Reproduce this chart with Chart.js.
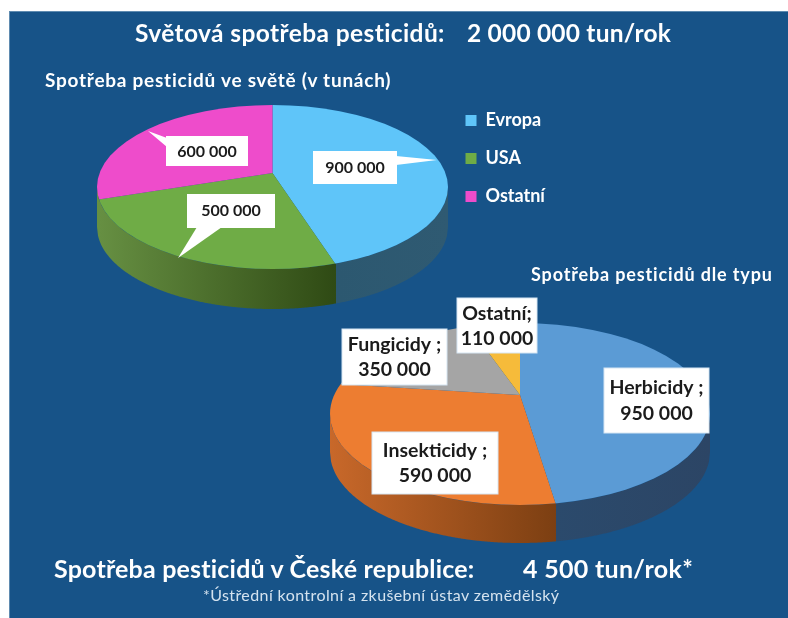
<!DOCTYPE html>
<html lang="cs"><head><meta charset="utf-8">
<script src="https://cdn.jsdelivr.net/npm/chart.js@4"></script>
<style>
html,body{margin:0;padding:0;background:#fff;width:788px;height:618px;overflow:hidden}
#stage{position:absolute;left:0;top:0;width:788px;height:618px;overflow:hidden;filter:blur(.7px)}
#panel{position:absolute;left:9px;top:11px;right:0;bottom:0;background:#175388;box-shadow:inset 1px 1px 0 #5f8bb0}
canvas{position:absolute;left:0}
.t{position:absolute;white-space:nowrap;font-family:Lato,sans-serif;font-weight:700;color:#fff;line-height:1;transform:translateY(-50%)}
</style></head><body>
<div id="stage">
<div id="panel"></div>
<canvas id="world" width="788" height="500" style="top:-60px"></canvas>
<canvas id="types" width="788" height="640" style="top:0"></canvas>
<div class="t" style="left:135px;top:33px;font-size:24.5px;letter-spacing:.4px">Světová spotřeba pesticidů:</div>
<div class="t" style="left:467px;top:33px;font-size:24.5px;letter-spacing:.2px">2 000 000 tun/rok</div>
<div class="t" style="left:45px;top:79px;font-size:19px;letter-spacing:.75px">Spotřeba pesticidů ve světě (v tunách)</div>
<div class="t" style="left:531px;top:274px;font-size:18px;letter-spacing:.85px">Spotřeba pesticidů dle typu</div>
<div class="t" style="left:54px;top:568px;font-size:25px;letter-spacing:.2px">Spotřeba pesticidů v České republice:</div>
<div class="t" style="left:523px;top:568px;font-size:25px;letter-spacing:.3px">4 500 tun/rok*</div>
<div class="t" style="left:203px;top:595px;font-size:16px;letter-spacing:.4px;font-weight:400;color:#d5e3ef">*Ústřední kontrolní a zkušební ústav zemědělský</div>
</div>
<script>
const worldCategories = ['Evropa', 'USA', 'Ostatní'];
const worldValues = [900000, 500000, 600000];
const typeCategories = ['Herbicidy', 'Insekticidy', 'Fungicidy', 'Ostatní'];
const typeValues = [950000, 590000, 350000, 110000];
const typeSeparators = [' ;', ' ;', ' ;', ';'];

const worldColors = ['#5FC5F9', '#6FAC46', '#EE4CCB'];
const typeColors = ['#5B9BD5', '#ED7D31', '#A5A5A5', '#F6BB3A'];
const worldSides = [['#2C5870', '#2F5A72'], ['#668F42', '#2F4A14'], ['#668F42', '#668F42']];
const typeSides = [['#2B4A6C', '#2C4565'], ['#C8682A', '#7C3F12'], ['#C8682A', '#C8682A'], ['#B88A2A', '#B88A2A']];

const fmt = v => String(v).replace(/\B(?=(\d{3})+(?!\d))/g, ' ');

const pie3d = {
  id: 'pie3d',
  beforeDatasetsDraw(chart, args, o) {
    const ctx = chart.ctx, arcs = chart.getDatasetMeta(0).data;
    const cx = arcs[0].x, cy = arcs[0].y;
    const ey = cy + o.drop;
    const groups = [];
    for (let x = cx - o.rx; x <= cx + o.rx + 0.001; x += 1) {
      const u = (x - cx) / o.rx;
      const y = ey + o.ry * Math.sqrt(Math.max(0, 1 - u * u));
      let a = Math.atan2((y - cy) / o.k, x - cx);
      if (a < -Math.PI / 2) a += Math.PI * 2;
      const idx = arcs.findIndex(e => a >= e.startAngle - 1e-6 && a <= e.endAngle + 1e-6);
      const last = groups[groups.length - 1];
      if (last && last.idx === idx) last.pts.push([x, y]);
      else { if (last) last.pts.push([x, y]); groups.push({ idx, pts: [[x, y]] }); }
    }
    groups.forEach(g => {
      const p = g.pts, c = o.sides[g.idx];
      const grad = ctx.createLinearGradient(p[0][0], 0, p[p.length - 1][0], 0);
      grad.addColorStop(0, c[0]); grad.addColorStop(1, c[1]);
      ctx.beginPath();
      p.forEach((q, i) => i ? ctx.lineTo(q[0], q[1]) : ctx.moveTo(q[0], q[1]));
      for (let i = p.length - 1; i >= 0; i--) ctx.lineTo(p[i][0], p[i][1] + o.depth);
      ctx.closePath();
      ctx.fillStyle = grad;
      ctx.fill();
    });
    ctx.save();
    ctx.beginPath();
    ctx.ellipse(cx, ey, o.rx, o.ry, 0, 0, Math.PI * 2);
    ctx.clip();
    ctx.translate(cx, cy); ctx.scale(1, o.k); ctx.translate(-cx, -cy);
  },
  afterDatasetsDraw(chart) { chart.ctx.restore(); },
  afterDraw(chart, args, o) {
    const ctx = chart.ctx;
    ctx.save();
    ctx.translate(0, o.canvasTop);
    o.boxes.forEach(b => {
      ctx.fillStyle = '#fff';
      if (b.tail) {
        ctx.beginPath(); b.tail.forEach((q, i) => i ? ctx.lineTo(q[0], q[1]) : ctx.moveTo(q[0], q[1]));
        ctx.closePath(); ctx.fill();
      }
      ctx.fillRect(b.x, b.y, b.w, b.h);
      if (o.outline) { ctx.strokeStyle = o.outline; ctx.lineWidth = 1; ctx.strokeRect(b.x, b.y, b.w, b.h); }
      ctx.fillStyle = '#1b1b1b';
      ctx.font = o.font;
      ctx.textAlign = 'center'; ctx.textBaseline = 'middle';
      b.lines(chart).forEach((s, i) => ctx.fillText(s, b.x + b.w / 2 + (b.dx || 0), b.ly[i]));
    });
    ctx.restore();
  }
};

const legendMover = {
  id: 'legendMover',
  afterLayout(chart, args, o) {
    const l = chart.legend; if (!l || !o.left) return;
    l.left = o.left; l.top = o.top; l.right = o.left + 180; l.bottom = o.top + 160;
  }
};

new Chart(document.getElementById('world'), {
  type: 'pie',
  data: { labels: worldCategories, datasets: [{ data: worldValues, backgroundColor: worldColors, borderWidth: 0 }] },
  plugins: [pie3d, legendMover],
  options: {
    responsive: false, animation: false, maintainAspectRatio: false,
    layout: { padding: { left: 57.5, right: 300.5, top: 18, bottom: 52 } },
    plugins: {
      tooltip: { enabled: false },
      legend: {
        display: true, position: 'chartArea', align: 'start',
        labels: { boxWidth: 11, boxHeight: 11, padding: 20, color: '#fff', font: { family: 'Lato', weight: 'bold', size: 18 } }
      },
      legendMover: { left: 445.5, top: 151.5 },
      pie3d: {
        k: 0.47, drop: 14, rx: 175.5, ry: 82, depth: 40, sides: worldSides, canvasTop: 60,
        font: 'bold 16px Lato',
        boxes: [
          { x: 313, y: 151, w: 84, h: 33, ly: [168], lines: c => [fmt(c.data.datasets[0].data[0])], tail: [[396, 156], [437, 160], [396, 165]] },
          { x: 187, y: 194, w: 88, h: 34, ly: [211], lines: c => [fmt(c.data.datasets[0].data[1])], tail: [[197, 227], [178, 258], [222, 227]] },
          { x: 166, y: 136, w: 82, h: 30, ly: [152], lines: c => [fmt(c.data.datasets[0].data[2])], tail: [[167, 138], [148, 131], [167, 147]] }
        ]
      }
    }
  }
});

const typeLine = i => c => [c.data.labels[i] + typeSeparators[i], fmt(c.data.datasets[0].data[i])];
new Chart(document.getElementById('types'), {
  type: 'pie',
  data: { labels: typeCategories, datasets: [{ data: typeValues, backgroundColor: typeColors, borderWidth: 0 }] },
  plugins: [pie3d],
  options: {
    responsive: false, animation: false, maintainAspectRatio: false,
    layout: { padding: { left: 285, right: 33, top: 160, bottom: 10 } },
    plugins: {
      tooltip: { enabled: false },
      legend: { display: false },
      pie3d: {
        k: 0.483, drop: 19, rx: 190, ry: 91, depth: 38, sides: typeSides, canvasTop: 0,
        font: 'bold 19.5px Lato', outline: '#d6e6f3',
        boxes: [
          { x: 604, y: 368, w: 105, h: 65, ly: [388, 414], lines: typeLine(0) },
          { x: 372, y: 432, w: 126, h: 62, ly: [451, 476], lines: typeLine(1) },
          { x: 342, y: 329, w: 105, h: 56, ly: [345, 370], lines: typeLine(2) },
          { x: 457, y: 298, w: 80, h: 55, ly: [314, 339], lines: typeLine(3) }
        ]
      }
    }
  }
});
</script>
</body></html>
